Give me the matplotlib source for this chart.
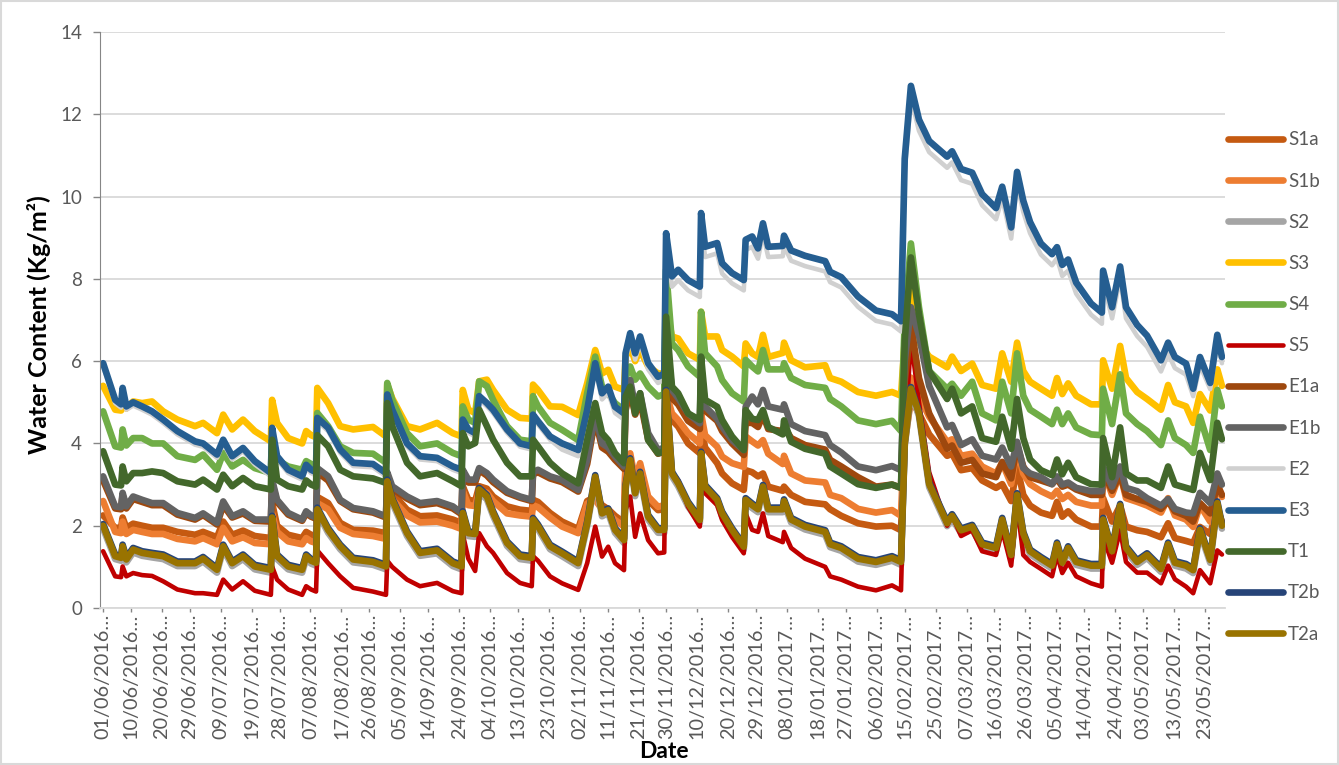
import matplotlib
matplotlib.use('Agg')
import matplotlib.pyplot as plt
import pandas as pd
from matplotlib.patches import Rectangle

plt.rcParams['font.family'] = ['Lato', 'DejaVu Sans']

start = pd.Timestamp('2016-06-01')

# days since 01/06/2016
day = [0, 3.9, 5.8, 6.3, 7.5, 9.7, 12.6, 15.8, 19.4, 24,
       29.7, 32.3, 36.8, 38.8, 41.7, 45.2, 49, 54.2, 54.6, 56.2,
       59.8, 64.3, 65.6, 67.2, 68.8, 69.2, 72.7, 76.6, 80.8, 87.2,
       91.4, 91.8, 93.4, 98.2, 102.4, 107.9, 113, 115.8, 116.2, 118,
       120.2, 121.5, 124, 126, 130.5, 134.7, 138.5, 138.9, 140.5, 144.4,
       148.3, 153.5, 156.4, 159, 161.2, 163.2, 165.4, 168.3, 168.8, 170.3,
       171.9, 173.5, 176.1, 179.3, 181.3, 181.9, 183.8, 185.8, 189, 192.8,
       193.2, 194.5, 198.4, 200, 203.2, 207.0, 207.6, 209.7, 211.6, 213.2,
       214.9, 219.6, 220, 222.3, 226.8, 233.3, 234.9, 238.5, 243.9, 249.7,
       254.9, 257.8, 259, 261, 263.6, 266.9, 272.7, 274.3, 277.2, 280.8,
       284, 288.5, 290.5, 293.4, 295.3, 297.3, 299.5, 303, 306.6, 308.2,
       309.9, 311.8, 314.4, 319.2, 322.7, 323.1, 326, 328.6, 330.5, 334.1,
       337.3, 341.8, 344.1, 346.3, 349.9, 352.2, 354.4, 357.7, 360, 361.5]

S1a = [2.25, 1.95, 1.95, 2.2, 1.95, 2.05, 2.0, 1.95, 1.95, 1.85,
       1.78, 1.85, 1.72, 2.1, 1.78, 1.88, 1.75, 1.7, 2.55, 2.0,
       1.78, 1.7, 1.85, 1.78, 1.73, 2.7, 2.55, 2.07, 1.9, 1.88,
       1.82, 3.05, 2.8, 2.39, 2.23, 2.25, 2.15, 2.07, 2.96, 2.63,
       2.6, 2.96, 2.9, 2.71, 2.47, 2.39, 2.36, 2.63, 2.58, 2.31,
       2.1, 1.92, 2.6, 2.7, 2.5, 2.4, 2.24, 2.08, 3.5, 3.65,
       3.0, 3.4, 2.62, 2.38, 2.4, 5.22, 4.57, 4.41, 4.0, 3.76,
       4.41, 3.9, 3.52, 3.27, 3.03, 2.87, 3.35, 3.3, 3.2, 3.27,
       2.95, 2.85, 2.95, 2.75, 2.58, 2.52, 2.4, 2.24, 2.06, 1.98,
       2.0, 1.89, 4.0, 5.08, 4.73, 4.22, 3.7, 3.75, 3.35, 3.4,
       3.1, 2.92, 3.01, 2.6, 3.44, 2.75, 2.49, 2.32, 2.24, 2.58,
       2.22, 2.35, 2.15, 1.98, 1.98, 2.67, 2.1, 2.49, 1.98, 1.89,
       1.85, 1.72, 2.06, 1.7, 1.63, 1.58, 1.97, 1.8, 2.4, 2.1]

S1b = [2.6, 1.85, 1.82, 2.1, 1.8, 1.9, 1.85, 1.8, 1.8, 1.68,
       1.62, 1.7, 1.55, 1.95, 1.62, 1.72, 1.58, 1.55, 2.3, 1.85,
       1.62, 1.55, 1.7, 1.62, 1.58, 2.55, 2.4, 1.95, 1.8, 1.75,
       1.68, 2.95, 2.65, 2.25, 2.08, 2.1, 2.0, 1.92, 2.85, 2.5,
       2.48, 2.85, 2.8, 2.6, 2.3, 2.25, 2.22, 2.5, 2.45, 2.2,
       1.98, 1.82, 2.54, 2.63, 2.4, 2.3, 2.14, 1.98, 3.6, 3.76,
       3.11, 3.52, 2.71, 2.46, 2.5, 5.22, 4.73, 4.57, 4.25, 4.0,
       4.73, 4.2, 3.92, 3.68, 3.52, 3.43, 4.17, 4.05, 3.95, 4.08,
       3.75, 3.5, 3.7, 3.27, 3.1, 3.05, 2.75, 2.67, 2.41, 2.32,
       2.38, 2.24, 4.5, 5.6, 5.16, 4.65, 4.04, 4.1, 3.7, 3.75,
       3.44, 3.27, 3.53, 3.01, 3.87, 3.27, 3.01, 2.84, 2.71, 2.85,
       2.65, 2.75, 2.58, 2.49, 2.49, 3.35, 2.75, 3.27, 2.67, 2.58,
       2.49, 2.32, 2.67, 2.25, 2.15, 1.97, 2.5, 2.1, 3.0, 2.7]

S2 = [1.93, 1.19, 1.15, 1.43, 1.11, 1.35, 1.27, 1.23, 1.19, 1.02,
      1.02, 1.13, 0.86, 1.43, 1.02, 1.19, 0.94, 0.86, 2.13, 1.19,
      0.94, 0.86, 1.19, 1.08, 1.03, 2.33, 1.83, 1.43, 1.11, 1.05,
      0.94, 3.01, 2.56, 1.75, 1.27, 1.33, 1.02, 0.94, 2.24, 1.75,
      1.73, 2.81, 2.64, 2.24, 1.51, 1.19, 1.15, 2.08, 1.92, 1.43,
      1.26, 1.02, 1.99, 3.12, 2.23, 2.31, 1.83, 1.58, 2.88, 3.53,
      2.72, 3.2, 2.15, 1.83, 1.83, 5.19, 3.2, 2.96, 2.47, 2.07,
      3.69, 2.88, 2.56, 2.23, 1.83, 1.42, 2.56, 2.43, 2.33, 2.88,
      2.33, 2.33, 2.53, 2.08, 1.91, 1.78, 1.48, 1.39, 1.13, 1.05,
      1.15, 1.05, 3.93, 5.26, 4.66, 2.94, 1.99, 2.17, 1.82, 1.91,
      1.48, 1.39, 2.08, 1.22, 2.68, 1.74, 1.31, 1.13, 0.96, 1.48,
      1.03, 1.39, 1.05, 0.96, 0.96, 2.08, 1.31, 2.42, 1.39, 1.05,
      1.22, 0.88, 1.48, 1.03, 0.96, 0.85, 1.83, 1.1, 2.48, 1.93]

S3 = [5.4, 4.82, 4.8, 5.0, 4.85, 5.02, 4.98, 5.02, 4.78, 4.58,
      4.42, 4.5, 4.25, 4.7, 4.34, 4.58, 4.3, 4.05, 5.06, 4.5,
      4.13, 4.0, 4.3, 4.2, 4.15, 5.35, 4.98, 4.42, 4.34, 4.4,
      4.17, 5.43, 5.1, 4.42, 4.34, 4.5, 4.25, 4.17, 5.3, 4.82,
      4.74, 5.51, 5.55, 5.3, 4.82, 4.62, 4.6, 5.43, 5.3, 4.9,
      4.89, 4.69, 5.46, 6.27, 5.7, 5.79, 5.38, 5.3, 6.1, 6.35,
      6.0, 6.27, 5.87, 5.7, 5.7, 7.3, 6.6, 6.55, 6.19, 6.03,
      7.2, 6.6, 6.6, 6.27, 6.11, 5.87, 6.43, 6.19, 6.1, 6.64,
      6.1, 6.2, 6.45, 6.02, 5.85, 5.9, 5.59, 5.5, 5.25, 5.16,
      5.25, 5.16, 6.5, 7.8, 6.45, 6.11, 5.85, 6.11, 5.76, 5.94,
      5.42, 5.33, 6.19, 5.5, 6.45, 5.76, 5.5, 5.33, 5.16, 5.59,
      5.2, 5.46, 5.16, 4.95, 4.95, 6.02, 5.33, 6.37, 5.59, 5.25,
      5.08, 4.82, 5.42, 5.0, 4.9, 4.5, 5.2, 4.8, 5.8, 5.4]

S4 = [4.78, 3.93, 3.9, 4.34, 3.95, 4.13, 4.13, 4.0, 4.0, 3.69,
      3.6, 3.73, 3.36, 3.77, 3.44, 3.6, 3.4, 3.28, 4.17, 3.6,
      3.44, 3.36, 3.57, 3.5, 3.45, 4.74, 4.42, 3.93, 3.77, 3.75,
      3.53, 5.47, 5.06, 4.25, 3.93, 4.0, 3.77, 3.69, 4.9, 4.58,
      4.5, 5.51, 5.39, 5.06, 4.42, 4.09, 4.05, 5.15, 4.9, 4.5,
      4.33, 4.08, 5.22, 6.11, 5.38, 5.22, 4.98, 4.81, 5.6, 5.87,
      5.55, 5.7, 5.38, 5.14, 5.2, 8.22, 6.43, 6.27, 5.87, 5.62,
      7.2, 6.19, 5.87, 5.54, 5.22, 5.02, 6.03, 5.87, 5.75, 6.27,
      5.8, 5.8, 5.95, 5.59, 5.42, 5.35, 5.08, 4.9, 4.56, 4.47,
      4.55, 4.3, 7.0, 8.86, 7.31, 5.76, 5.33, 5.45, 5.16, 5.5,
      4.73, 4.56, 5.5, 4.73, 6.19, 5.16, 4.82, 4.65, 4.47, 4.82,
      4.47, 4.73, 4.39, 4.22, 4.2, 5.33, 4.47, 5.68, 4.73, 4.47,
      4.3, 3.96, 4.56, 4.13, 3.96, 3.77, 4.65, 3.84, 5.3, 4.9]

S5 = [1.38, 0.77, 0.75, 1.01, 0.77, 0.85, 0.8, 0.78, 0.65, 0.45,
      0.36, 0.36, 0.32, 0.69, 0.45, 0.65, 0.42, 0.32, 1.01, 0.69,
      0.45, 0.32, 0.53, 0.45, 0.4, 1.4, 1.09, 0.77, 0.49, 0.4,
      0.32, 1.15, 1.0, 0.69, 0.53, 0.61, 0.41, 0.36, 1.8, 1.2,
      0.9, 1.82, 1.5, 1.34, 0.85, 0.61, 0.53, 1.26, 1.15, 0.77,
      0.6, 0.44, 1.09, 1.98, 1.25, 1.49, 1.09, 0.92, 2.38, 2.71,
      1.73, 2.3, 1.65, 1.33, 1.35, 4.8, 3.3, 3.11, 2.46, 1.98,
      3.6, 2.79, 2.5, 2.14, 1.73, 1.33, 2.3, 1.9, 1.85, 2.3,
      1.75, 1.6, 1.85, 1.46, 1.2, 1.0, 0.77, 0.69, 0.52, 0.43,
      0.55, 0.43, 4.0, 6.54, 5.0, 3.3, 2.0, 2.25, 1.75, 1.89,
      1.38, 1.29, 1.89, 1.03, 2.5, 1.29, 1.12, 0.95, 0.77, 1.29,
      0.85, 1.1, 0.77, 0.6, 0.52, 1.72, 1.1, 1.89, 1.12, 0.86,
      0.86, 0.6, 1.03, 0.7, 0.52, 0.36, 0.92, 0.6, 1.4, 1.3]

E1a = [3.1, 2.42, 2.4, 2.75, 2.42, 2.65, 2.58, 2.5, 2.5, 2.27,
       2.15, 2.26, 2.03, 2.5, 2.2, 2.3, 2.12, 2.1, 3.05, 2.58,
       2.27, 2.12, 2.3, 2.22, 2.17, 3.3, 3.1, 2.6, 2.4, 2.32,
       2.2, 3.2, 2.9, 2.66, 2.5, 2.55, 2.42, 2.28, 3.3, 3.05,
       3.05, 3.35, 3.22, 3.06, 2.8, 2.68, 2.6, 3.25, 3.3, 3.15,
       3.06, 2.83, 3.5, 4.6, 3.9, 3.8, 3.6, 3.38, 4.8, 5.3,
       4.7, 5.05, 4.1, 3.75, 3.8, 6.3, 5.1, 4.95, 4.55, 4.35,
       5.6, 4.8, 4.55, 4.3, 4.0, 3.72, 4.5, 4.5, 4.4, 4.7,
       4.35, 4.3, 4.4, 4.13, 3.96, 3.85, 3.6, 3.44, 3.18, 2.95,
       3.0, 2.92, 5.5, 6.9, 5.59, 4.73, 3.87, 3.95, 3.53, 3.6,
       3.27, 3.18, 3.55, 3.15, 3.96, 3.44, 3.18, 3.1, 3.01, 3.15,
       2.95, 3.0, 2.88, 2.75, 2.75, 3.3, 2.85, 3.25, 2.75, 2.65,
       2.58, 2.41, 2.6, 2.35, 2.24, 2.1, 2.55, 2.3, 3.0, 2.75]

E1b = [3.2, 2.47, 2.45, 2.8, 2.47, 2.71, 2.63, 2.55, 2.55, 2.31,
       2.19, 2.3, 2.07, 2.59, 2.23, 2.35, 2.15, 2.15, 3.12, 2.63,
       2.31, 2.15, 2.35, 2.25, 2.2, 3.4, 3.2, 2.63, 2.43, 2.35,
       2.23, 3.3, 2.96, 2.71, 2.55, 2.6, 2.47, 2.31, 3.36, 3.12,
       3.12, 3.4, 3.28, 3.12, 2.84, 2.71, 2.63, 3.3, 3.36, 3.2,
       3.11, 2.87, 3.6, 4.73, 4.0, 3.9, 3.68, 3.44, 5.0, 5.54,
       4.9, 5.22, 4.25, 3.84, 3.9, 6.6, 5.3, 5.1, 4.73, 4.49,
       5.87, 4.9, 4.6, 4.41, 4.08, 3.84, 4.89, 5.14, 4.95, 5.3,
       4.9, 4.82, 4.95, 4.47, 4.3, 4.2, 3.96, 3.78, 3.44, 3.35,
       3.45, 3.35, 6.0, 7.31, 6.62, 5.4, 4.39, 4.45, 3.96, 4.1,
       3.7, 3.61, 3.9, 3.44, 4.04, 3.4, 3.27, 3.18, 3.01, 3.2,
       3.0, 3.05, 2.92, 2.84, 2.84, 3.44, 2.95, 3.44, 2.92, 2.84,
       2.67, 2.49, 2.65, 2.41, 2.32, 2.3, 2.8, 2.55, 3.27, 3.0]

E2 = [5.87, 4.98, 4.87, 5.27, 4.82, 4.92, 4.82, 4.7, 4.5, 4.22,
      3.97, 3.92, 3.65, 4.01, 3.61, 3.81, 3.49, 3.2, 4.3, 3.61,
      3.28, 3.12, 3.4, 3.28, 3.22, 4.54, 4.3, 3.77, 3.45, 3.42,
      3.2, 5.11, 4.74, 3.92, 3.61, 3.57, 3.36, 3.28, 4.5, 4.26,
      4.17, 5.07, 4.9, 4.74, 4.26, 3.92, 3.85, 4.62, 4.46, 4.09,
      3.85, 3.69, 4.66, 5.8, 5.07, 5.23, 4.74, 4.58, 6.04, 6.53,
      6.04, 6.45, 5.8, 5.47, 5.55, 8.9, 7.81, 7.97, 7.72, 7.56,
      9.35, 8.53, 8.62, 8.13, 7.89, 7.72, 8.7, 8.78, 8.49, 9.1,
      8.53, 8.55, 8.8, 8.44, 8.31, 8.18, 7.92, 7.79, 7.32, 6.98,
      6.89, 6.72, 10.6, 12.4, 11.6, 11.08, 10.7, 10.83, 10.4, 10.31,
      9.79, 9.45, 9.97, 8.98, 10.33, 9.63, 9.11, 8.59, 8.33, 8.5,
      8.07, 8.2, 7.64, 7.13, 6.91, 7.93, 7.04, 8.03, 7.04, 6.61,
      6.35, 5.75, 6.18, 5.83, 5.67, 5.15, 5.9, 5.32, 6.45, 5.95]

E3 = [5.95, 5.06, 4.95, 5.35, 4.9, 5.0, 4.9, 4.78, 4.58, 4.3,
      4.05, 4.0, 3.73, 4.09, 3.69, 3.89, 3.57, 3.28, 4.38, 3.69,
      3.36, 3.2, 3.48, 3.36, 3.3, 4.62, 4.38, 3.85, 3.53, 3.5,
      3.28, 5.19, 4.82, 4.0, 3.69, 3.65, 3.44, 3.36, 4.58, 4.34,
      4.25, 5.15, 4.98, 4.82, 4.34, 4.0, 3.93, 4.7, 4.54, 4.17,
      4.0, 3.84, 4.81, 5.95, 5.22, 5.38, 4.89, 4.73, 6.19, 6.68,
      6.19, 6.6, 5.95, 5.62, 5.7, 9.11, 8.06, 8.22, 7.97, 7.81,
      9.6, 8.78, 8.87, 8.38, 8.14, 7.97, 8.95, 9.03, 8.74, 9.35,
      8.78, 8.8, 9.05, 8.69, 8.56, 8.43, 8.17, 8.04, 7.57, 7.23,
      7.14, 6.97, 10.92, 12.69, 11.87, 11.35, 10.97, 11.1, 10.67, 10.58,
      10.06, 9.72, 10.24, 9.25, 10.6, 9.9, 9.38, 8.86, 8.6, 8.77,
      8.34, 8.47, 7.91, 7.4, 7.18, 8.2, 7.31, 8.3, 7.31, 6.88,
      6.62, 6.02, 6.45, 6.1, 5.94, 5.33, 6.1, 5.47, 6.64, 6.1]

T1 = [3.81, 3.0, 2.98, 3.44, 3.08, 3.28, 3.28, 3.32, 3.28, 3.08,
      3.0, 3.12, 2.88, 3.24, 2.96, 3.16, 2.96, 2.88, 4.09, 3.12,
      2.96, 2.88, 3.1, 3.0, 2.95, 4.2, 3.93, 3.36, 3.2, 3.15,
      3.04, 4.98, 4.42, 3.53, 3.2, 3.28, 3.08, 2.96, 4.25, 3.93,
      4.01, 4.82, 4.42, 4.09, 3.53, 3.2, 3.2, 4.09, 3.93, 3.53,
      3.27, 3.03, 4.08, 4.98, 4.25, 4.08, 3.76, 3.52, 5.14, 5.38,
      4.73, 5.22, 4.08, 3.76, 3.8, 7.08, 5.38, 5.22, 4.73, 4.57,
      6.11, 5.06, 4.89, 4.57, 4.17, 3.84, 4.81, 4.6, 4.57, 4.81,
      4.4, 4.22, 4.56, 4.04, 3.87, 3.75, 3.44, 3.27, 3.01, 2.92,
      3.0, 2.92, 6.5, 8.52, 7.14, 5.76, 5.08, 5.33, 4.73, 4.9,
      4.13, 4.04, 4.65, 3.87, 5.08, 4.13, 3.61, 3.35, 3.23, 3.61,
      3.25, 3.53, 3.18, 3.01, 3.0, 4.13, 3.18, 4.39, 3.27, 3.1,
      3.1, 2.92, 3.44, 3.0, 2.92, 2.87, 3.77, 3.11, 4.5, 4.1]

T2b = [2.04, 1.3, 1.26, 1.54, 1.22, 1.46, 1.38, 1.34, 1.3, 1.13,
       1.13, 1.24, 0.97, 1.54, 1.13, 1.3, 1.05, 0.97, 2.24, 1.3,
       1.05, 0.97, 1.3, 1.19, 1.14, 2.44, 1.94, 1.54, 1.22, 1.16,
       1.05, 3.12, 2.67, 1.86, 1.38, 1.44, 1.13, 1.05, 2.35, 1.86,
       1.84, 2.92, 2.75, 2.35, 1.62, 1.3, 1.26, 2.19, 2.03, 1.54,
       1.37, 1.13, 2.1, 3.23, 2.34, 2.42, 1.94, 1.69, 2.99, 3.64,
       2.83, 3.31, 2.26, 1.94, 1.94, 5.3, 3.31, 3.07, 2.58, 2.18,
       3.8, 2.99, 2.67, 2.34, 1.94, 1.53, 2.67, 2.54, 2.44, 2.99,
       2.44, 2.44, 2.64, 2.19, 2.02, 1.89, 1.59, 1.5, 1.24, 1.16,
       1.26, 1.16, 4.04, 5.37, 4.77, 3.05, 2.1, 2.28, 1.93, 2.02,
       1.59, 1.5, 2.19, 1.33, 2.79, 1.85, 1.42, 1.24, 1.07, 1.59,
       1.14, 1.5, 1.16, 1.07, 1.07, 2.19, 1.42, 2.53, 1.5, 1.16,
       1.33, 0.99, 1.59, 1.14, 1.07, 0.96, 1.94, 1.21, 2.59, 2.04]

T2a = [2.0, 1.26, 1.22, 1.5, 1.18, 1.42, 1.34, 1.3, 1.26, 1.09,
       1.09, 1.2, 0.93, 1.5, 1.09, 1.26, 1.01, 0.93, 2.2, 1.26,
       1.01, 0.93, 1.26, 1.15, 1.1, 2.4, 1.9, 1.5, 1.18, 1.12,
       1.01, 3.08, 2.63, 1.82, 1.34, 1.4, 1.09, 1.01, 2.31, 1.82,
       1.8, 2.88, 2.71, 2.31, 1.58, 1.26, 1.22, 2.15, 1.99, 1.5,
       1.33, 1.09, 2.06, 3.19, 2.3, 2.38, 1.9, 1.65, 2.95, 3.6,
       2.79, 3.27, 2.22, 1.9, 1.9, 5.26, 3.27, 3.03, 2.54, 2.14,
       3.76, 2.95, 2.63, 2.3, 1.9, 1.49, 2.63, 2.5, 2.4, 2.95,
       2.4, 2.4, 2.6, 2.15, 1.98, 1.85, 1.55, 1.46, 1.2, 1.12,
       1.22, 1.12, 4.0, 5.33, 4.73, 3.01, 2.06, 2.24, 1.89, 1.98,
       1.55, 1.46, 2.15, 1.29, 2.75, 1.81, 1.38, 1.2, 1.03, 1.55,
       1.1, 1.46, 1.12, 1.03, 1.03, 2.15, 1.38, 2.49, 1.46, 1.12,
       1.29, 0.95, 1.55, 1.1, 1.03, 0.92, 1.9, 1.17, 2.55, 2.0]

tick_dates = ['01/06/2016', '10/06/2016', '20/06/2016', '29/06/2016', '09/07/2016',
              '19/07/2016', '28/07/2016', '07/08/2016', '17/08/2016', '26/08/2016',
              '05/09/2016', '14/09/2016', '24/09/2016', '04/10/2016', '13/10/2016',
              '23/10/2016', '02/11/2016', '11/11/2016', '21/11/2016', '30/11/2016',
              '10/12/2016', '20/12/2016', '29/12/2016', '08/01/2017', '18/01/2017',
              '27/01/2017', '06/02/2017', '15/02/2017', '25/02/2017', '07/03/2017',
              '16/03/2017', '26/03/2017', '05/04/2017', '14/04/2017', '24/04/2017',
              '03/05/2017', '13/05/2017', '23/05/2017']

# name, values, colour, width (drawing order = legend order)
series = [
    ('S1a', S1a, '#C55A11', 4.8),
    ('S1b', S1b, '#ED7D31', 4.8),
    ('S2', S2, '#A5A5A5', 4.8),
    ('S3', S3, '#FFC000', 4.8),
    ('S4', S4, '#70AD47', 4.8),
    ('S5', S5, '#C00000', 3.3),
    ('E1a', E1a, '#9E480E', 4.8),
    ('E1b', E1b, '#636363', 4.8),
    ('E2', E2, '#D0D0D0', 3.3),
    ('E3', E3, '#255E91', 4.8),
    ('T1', T1, '#43682B', 4.8),
    ('T2b', T2b, '#264478', 4.8),
    ('T2a', T2a, '#997300', 4.8),
]

t = start + pd.to_timedelta(day, unit='D')
ticks = pd.to_datetime(tick_dates, dayfirst=True)

fig = plt.figure(figsize=(13.39, 7.65), dpi=100)
ax = fig.add_axes([0.0747, 0.2052, 0.8402, 0.753])

for name, vals, col, lw in series:
    ax.plot(t, vals, color=col, lw=lw, label=name,
            solid_joinstyle='round', solid_capstyle='round')

ax.set_ylim(0, 14)
ax.set_yticks(range(0, 15, 2))
ax.set_xlim(start - pd.Timedelta(days=1), start + pd.Timedelta(days=362.5))
ax.set_xticks(ticks)
ax.set_xticklabels([s + '…' for s in tick_dates], rotation=90)

grey = '#595959'
ax.tick_params(axis='y', labelsize=13.5, labelcolor=grey, color='#868686',
               length=5, width=1, pad=8)
ax.tick_params(axis='x', labelsize=14.3, labelcolor=grey, color='#868686',
               length=3, width=1, pad=1)
ax.yaxis.grid(True, color='#D9D9D9', lw=1.3)
ax.set_axisbelow(True)
for s in ['top', 'right']:
    ax.spines[s].set_visible(False)
ax.spines['left'].set_color('#868686')
ax.spines['bottom'].set_color('#D9D9D9')
ax.spines['bottom'].set_linewidth(1.3)

fig.text(39 / 1339, 1 - 325 / 765, 'Water Content (Kg/m²)', rotation=90,
         ha='center', va='center', fontsize=18, fontweight='bold')
fig.text(664 / 1339, 1 - 752 / 765, 'Date', ha='center', va='center',
         fontsize=16.5, fontweight='bold')

fig.legend(loc='center left', bbox_to_anchor=(1228 / 1339, 1 - 387 / 765),
           frameon=False, fontsize=13.5, labelcolor=grey, handlelength=2.95,
           handletextpad=0.25, labelspacing=1.29, borderpad=0, borderaxespad=0)

fig.patches.append(Rectangle((0.001, 0.001), 0.998, 0.998, transform=fig.transFigure,
                             fill=False, edgecolor='#D9D9D9', lw=1.5))

fig.savefig('out.png', dpi=100)
